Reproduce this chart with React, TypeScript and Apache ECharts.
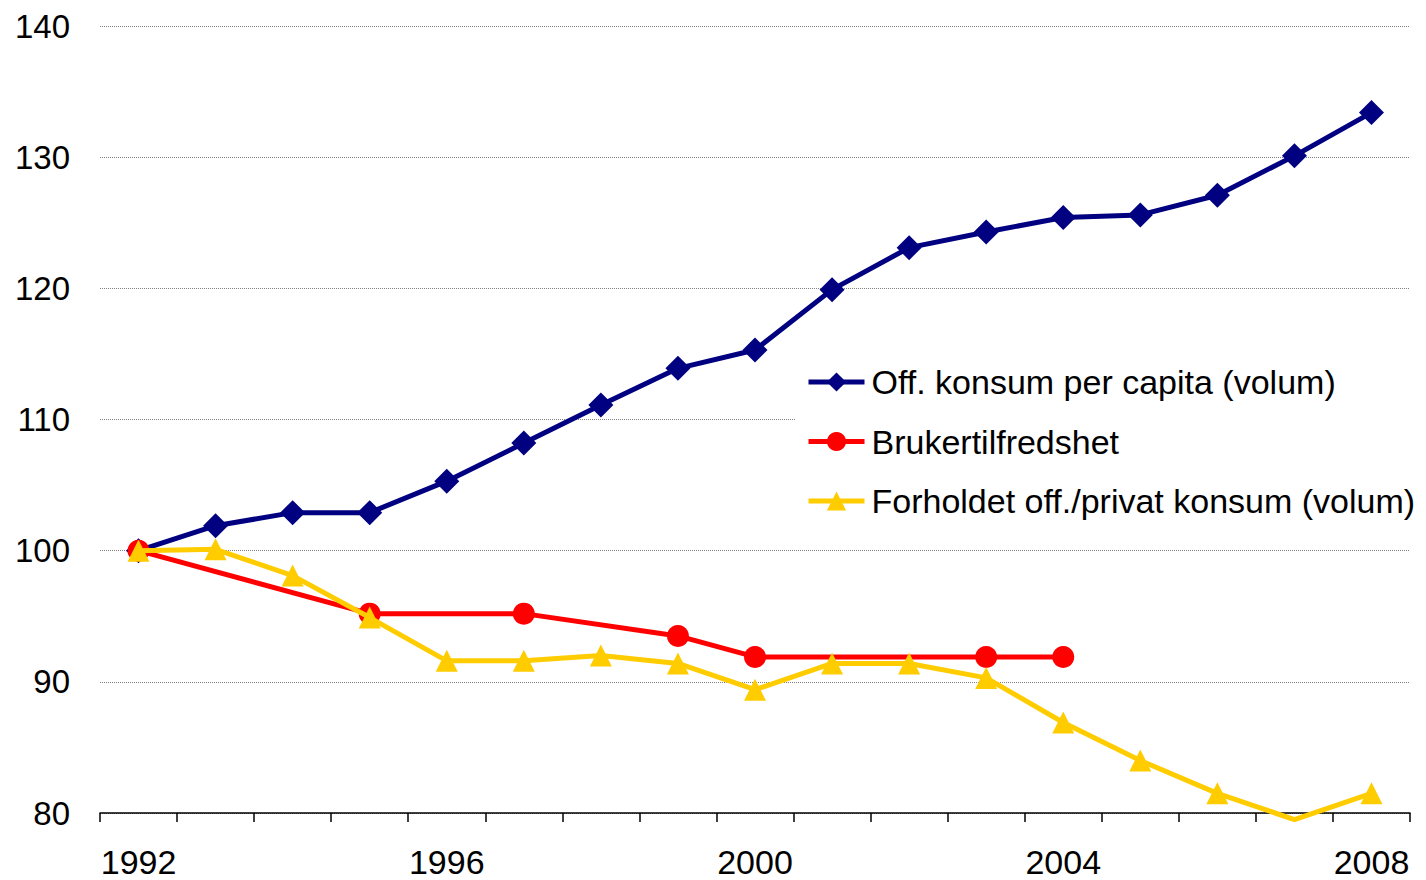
import React, { useEffect, useRef } from "react";
import * as echarts from "echarts";

const years = ["1992","1993","1994","1995","1996","1997","1998","1999","2000","2001","2002","2003","2004","2005","2006","2007","2008"];
const offKonsum = [100, 101.9, 102.9, 102.9, 105.3, 108.2, 111.1, 113.9, 115.3, 119.9, 123.1, 124.3, 125.4, 125.6, 127.1, 130.1, 133.4];
const brukertilfredshet: (number | null)[] = [100, null, null, 95.2, null, 95.2, null, 93.5, 91.9, null, null, 91.9, 91.9, null, null, null, null];
const forholdet = [100, 100.1, 98.1, 94.9, 91.6, 91.6, 92.0, 91.4, 89.4, 91.4, 91.4, 90.3, 86.9, 84.0, 81.5, 79.5, 81.5];
const yMin = 80;
const yMax = 140;
const yStep = 10;

const FONT = "'Liberation Sans', Arial, sans-serif";

const names = ["Off. konsum per capita (volum)", "Brukertilfredshet", "Forholdet off./privat konsum (volum)"];
const colors = ["#000080", "#ff0000", "#ffcc00"];

export default function App() {
  const ref = useRef<HTMLDivElement>(null);
  useEffect(() => {
    if (!ref.current) return;
    const chart = echarts.init(ref.current, null, { renderer: "svg" });
    chart.setOption({
      animation: false,
      backgroundColor: "#ffffff",
      textStyle: { fontFamily: FONT },
      grid: { left: 100, right: 16, top: 26, bottom: 67, containLabel: false },
      legend: {
        orient: "vertical",
        left: 795,
        top: 353,
        padding: [12, 20, 12, 11],
        itemGap: 25.5,
        itemWidth: 56,
        itemHeight: 24,
        backgroundColor: "#ffffff",
        lineStyle: { width: 5 },
        textStyle: { fontSize: 34, color: "#000", fontFamily: FONT, lineHeight: 31, padding: [0, 0, 0, 2] },
        data: names,
      },
      xAxis: {
        type: "category",
        data: years,
        boundaryGap: true,
        axisLine: { show: true, lineStyle: { color: "#000", width: 1.5 } },
        axisTick: { show: true, interval: 0, length: 9, lineStyle: { color: "#000", width: 1.5 } },
        axisLabel: { interval: 3, fontSize: 34, lineHeight: 30, color: "#000", margin: 34, fontFamily: FONT },
        splitLine: { show: false },
      },
      yAxis: {
        type: "value",
        min: yMin,
        max: yMax,
        interval: yStep,
        axisLine: { show: false },
        axisTick: { show: false },
        axisLabel: { fontSize: 33, color: "#000", margin: 30, fontFamily: FONT },
        splitLine: { show: true, lineStyle: { color: "#808080", type: [1, 1], width: 1 } },
      },
      series: [
        {
          name: names[0],
          type: "line",
          data: offKonsum,
          symbol: "diamond",
          symbolSize: 25,
          lineStyle: { color: colors[0], width: 5 },
          itemStyle: { color: colors[0] },
          clip: false,
          z: 2,
        },
        {
          name: names[1],
          type: "line",
          data: brukertilfredshet,
          connectNulls: true,
          symbol: "circle",
          symbolSize: 22,
          lineStyle: { color: colors[1], width: 5 },
          itemStyle: { color: colors[1] },
          clip: false,
          z: 3,
        },
        {
          name: names[2],
          type: "line",
          data: forholdet.map((v) => (v < yMin ? { value: v, symbolSize: 0 } : v)),
          symbol: "triangle",
          symbolSize: 22,
          lineStyle: { color: colors[2], width: 5 },
          itemStyle: { color: colors[2] },
          clip: false,
          z: 4,
        },
      ],
    });
    return () => chart.dispose();
  }, []);
  return <div ref={ref} style={{ position: "fixed", left: 0, top: 0, width: 1426, height: 880 }} />;
}
